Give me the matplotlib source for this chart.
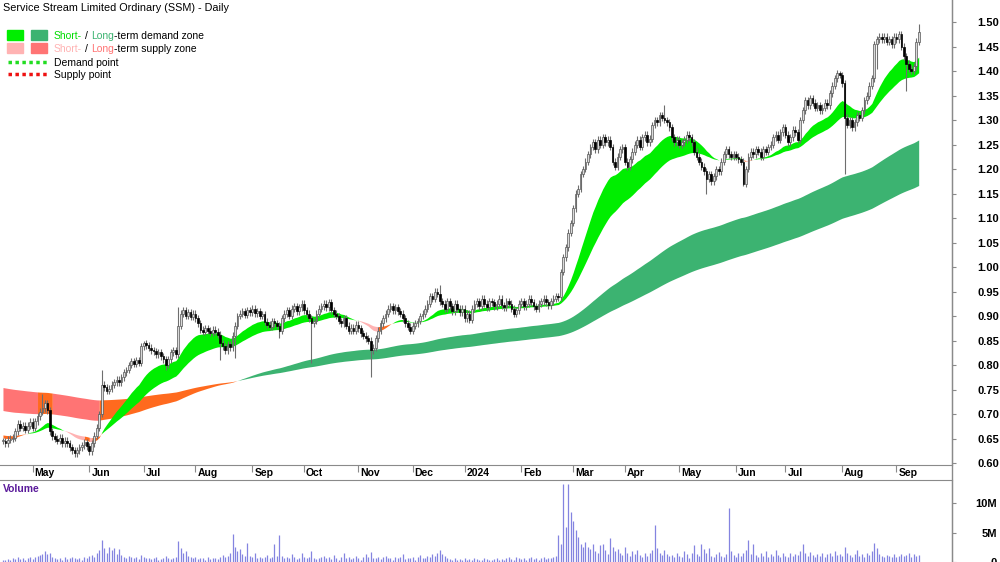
"""
plot.py
SSM daily candles with short/long-term demand & supply zones and volume.
Output: out.png (1000x562)
"""

import numpy as np
import pandas as pd
import matplotlib
matplotlib.use("Agg")
import matplotlib.pyplot as plt
from matplotlib.patches import Rectangle
from matplotlib.lines import Line2D

# ── Data ──────────────────────────────────────────────────────────────────────

START_DATE = "2023-04-13"

# daily closes, in chronological chunks
close_apr_may23 = [0.645, 0.640, 0.648, 0.650, 0.652, 0.665, 0.680, 0.672, 0.676, 0.668,
                   0.676, 0.684, 0.672, 0.685, 0.695, 0.705, 0.712, 0.722, 0.708, 0.665,
                   0.655, 0.650, 0.646, 0.652, 0.640, 0.646, 0.640, 0.632, 0.626, 0.620,
                   0.626, 0.632, 0.636, 0.642, 0.634, 0.624]
close_jun_aug23 = [0.640, 0.656, 0.672, 0.700, 0.760, 0.755, 0.748, 0.752, 0.760, 0.765,
                   0.770, 0.765, 0.775, 0.785, 0.790, 0.800, 0.808, 0.802, 0.810, 0.805,
                   0.838, 0.845, 0.840, 0.835, 0.830, 0.828, 0.822, 0.826, 0.818, 0.812,
                   0.800, 0.812, 0.826, 0.830, 0.822, 0.880, 0.905, 0.912, 0.900, 0.908,
                   0.898, 0.905, 0.895, 0.885, 0.872, 0.868, 0.875, 0.870, 0.866, 0.872,
                   0.868, 0.862, 0.845, 0.838, 0.830, 0.842, 0.836, 0.860, 0.880, 0.900]
close_sep_oct23 = [0.905, 0.910, 0.902, 0.912, 0.908, 0.915, 0.906, 0.910, 0.900, 0.904,
                   0.888, 0.882, 0.878, 0.890, 0.885, 0.880, 0.870, 0.895, 0.905, 0.912,
                   0.900, 0.915, 0.920, 0.910, 0.918, 0.925, 0.912, 0.905, 0.895, 0.885,
                   0.890, 0.905, 0.915, 0.920, 0.925, 0.918, 0.928, 0.912, 0.905, 0.900,
                   0.890, 0.885, 0.895, 0.880, 0.870, 0.876, 0.870, 0.882, 0.875, 0.865,
                   0.860, 0.855, 0.850]
close_nov_dec23 = [0.830, 0.835, 0.855, 0.870, 0.885, 0.895, 0.905, 0.915, 0.920, 0.912,
                   0.918, 0.910, 0.905, 0.895, 0.885, 0.878, 0.870, 0.880, 0.885, 0.890,
                   0.900, 0.905, 0.915, 0.925, 0.940, 0.935, 0.950, 0.945, 0.930, 0.925,
                   0.915, 0.930, 0.920, 0.910, 0.925, 0.915, 0.908, 0.915, 0.895, 0.905,
                   0.892]
close_jan_feb24 = [0.915, 0.925, 0.930, 0.920, 0.935, 0.925, 0.918, 0.930, 0.928, 0.920,
                   0.925, 0.935, 0.922, 0.918, 0.930, 0.925, 0.915, 0.905, 0.912, 0.925,
                   0.930, 0.920, 0.925, 0.935, 0.928, 0.920, 0.915, 0.925, 0.930, 0.935,
                   0.928, 0.922, 0.930, 0.935, 0.940, 0.938]
close_mar_may24 = [0.990, 1.020, 1.040, 1.070, 1.090, 1.120, 1.150, 1.160, 1.190, 1.200,
                   1.215, 1.230, 1.245, 1.255, 1.240, 1.260, 1.250, 1.265, 1.255, 1.260,
                   1.245, 1.215, 1.205, 1.225, 1.240, 1.245, 1.215, 1.205, 1.220, 1.235,
                   1.250, 1.260, 1.245, 1.265, 1.270, 1.255, 1.262, 1.290, 1.300, 1.295,
                   1.310, 1.305, 1.300, 1.295, 1.285, 1.265, 1.255, 1.260, 1.250, 1.255,
                   1.260, 1.270, 1.265, 1.255, 1.235, 1.225, 1.215, 1.205, 1.195, 1.180,
                   1.190, 1.175, 1.185, 1.200, 1.195]
close_jun_jul24 = [1.215, 1.230, 1.240, 1.230, 1.225, 1.230, 1.225, 1.220, 1.215, 1.170,
                   1.200, 1.225, 1.235, 1.230, 1.240, 1.235, 1.225, 1.240, 1.235, 1.245,
                   1.250, 1.265, 1.270, 1.260, 1.275, 1.285, 1.270, 1.255, 1.265, 1.280,
                   1.275, 1.260]
close_aug_sep24 = [1.300, 1.320, 1.340, 1.330, 1.345, 1.335, 1.325, 1.330, 1.320, 1.325,
                   1.335, 1.330, 1.355, 1.370, 1.385, 1.395, 1.392, 1.375, 1.305, 1.290,
                   1.300, 1.285, 1.295, 1.310, 1.305, 1.320, 1.340, 1.350, 1.370, 1.385,
                   1.455, 1.465, 1.470, 1.465, 1.470, 1.460, 1.465, 1.455, 1.470, 1.465,
                   1.475, 1.450, 1.430, 1.415, 1.405, 1.400, 1.410, 1.460, 1.480]

# long wicks that stand out (day index -> price)
wick_highs = {16: 0.740, 40: 0.790, 57: 0.850, 71: 0.918, 177: 0.963,
              268: 1.330, 339: 1.400, 371: 1.495}
wick_lows = {66: 0.790, 88: 0.810, 94: 0.815, 112: 0.855, 125: 0.804,
             149: 0.776, 285: 1.150, 300: 1.165, 341: 1.190, 354: 1.405, 366: 1.360}

# daily volume, millions
vol_2023a = [0.4, 0.3, 0.5, 0.4, 0.6, 0.5, 0.8, 0.5, 0.7, 0.4, 0.6, 0.9, 0.5,
             0.8, 1.0, 1.2, 1.4, 1.8, 1.3,
             1.6, 0.9, 0.7, 0.5, 0.6, 0.4, 0.8, 0.5, 0.6, 0.9, 0.7, 0.5, 0.6, 0.4, 0.8, 0.6, 1.0,
             1.2, 0.8, 1.5, 2.0,
             3.8, 2.4, 1.6, 2.6, 2.0, 2.3, 1.4, 2.2, 1.2,
             0.9, 0.7, 1.1, 0.8, 0.6, 0.9, 0.5, 1.2, 0.8, 0.6, 0.7, 0.5, 0.6, 0.8, 0.4, 0.5,
             0.7, 1.0, 0.6, 0.5, 0.7, 0.9,
             3.6, 2.4, 1.5, 1.8, 1.1,
             0.8, 0.6, 0.9, 0.5, 0.7, 0.6, 0.4, 0.8, 0.5, 0.6, 0.7, 0.5, 0.9, 1.2, 0.8, 1.0]
vol_2023b = [1.5, 4.8, 2.6, 1.9, 2.2, 1.4, 1.0, 3.2,
             1.1, 0.8, 1.6, 0.7, 0.9, 0.6, 0.8, 1.2, 0.7, 0.9, 3.0, 1.1, 4.5,
             1.0, 0.7, 0.9, 0.6, 1.4, 0.8, 0.5, 0.7, 1.6, 0.9, 0.6, 0.8, 1.8, 0.7, 0.5, 0.6, 0.9, 1.1,
             0.6, 0.8, 0.5, 1.2, 0.7, 0.4, 0.9, 1.5, 0.6, 0.8, 0.5, 0.7, 1.0, 0.6, 0.4,
             0.8, 1.4, 0.9, 1.7, 0.7, 0.6, 0.9, 0.5, 0.8, 1.1, 0.6, 0.7, 0.4, 0.9, 0.6,
             0.8, 1.3, 0.5, 0.7, 0.6, 0.9, 0.4, 0.8, 1.2, 0.6, 0.7, 1.0, 0.8, 1.3, 1.1,
             1.6, 2.0, 1.4, 1.0, 0.7]
vol_2024a = [0.5, 0.4, 0.6, 0.3, 0.5, 0.4, 0.7, 0.3, 0.5, 0.4, 0.6, 0.5, 0.3, 0.4, 0.6,
             0.5, 0.4, 0.3, 0.5, 0.6, 0.4, 0.5, 0.3, 0.6, 0.8, 0.5, 0.4, 0.9, 0.6, 0.5,
             0.7, 0.4, 0.6, 0.8, 0.5, 0.7, 0.4, 0.6, 0.9, 0.5, 0.7, 0.6, 0.8, 1.0,
             4.5, 3.0, 13.2, 6.0, 13.2, 8.5, 7.0, 5.5, 4.2, 3.0, 2.6, 3.4, 2.5, 2.2, 3.0, 1.8,
             1.5, 2.8, 3.0, 2.0, 1.4, 4.0, 2.6, 1.8, 2.2, 1.5, 1.2, 2.5, 1.6, 1.0, 1.8, 1.4,
             2.0, 1.2, 0.9, 1.6, 1.1, 1.5,
             2.0, 6.3, 2.4, 1.5, 1.2, 2.0, 1.4, 1.0]
vol_2024b = [1.2, 0.8, 1.6, 1.0, 0.9, 1.8, 1.3, 0.7, 1.5, 2.8, 1.4, 1.0, 3.0, 2.2, 1.6,
             2.4, 1.1, 0.9, 1.3, 1.7, 1.0, 0.8, 1.4,
             9.2,
             1.8, 1.2, 0.9, 1.5, 1.1, 1.6, 2.0, 3.8, 1.4, 3.0, 1.2, 0.9, 1.6, 1.1, 1.8,
             0.8, 1.3, 1.0, 2.0, 1.2, 0.9, 1.5, 1.1, 0.8, 1.6, 1.0, 1.4, 1.2,
             1.9, 3.0, 1.5, 1.1, 1.7, 1.2, 0.9, 1.4, 1.1, 1.6, 0.8, 1.3, 1.5, 1.0, 1.8,
             1.2, 1.4, 1.0, 2.5, 1.6, 1.2, 0.9, 1.4, 2.0, 1.1, 1.3, 0.9, 1.5,
             1.2, 1.8, 3.2, 2.4, 1.4, 1.1, 0.9, 1.2, 1.0, 0.8, 1.3, 0.9, 1.1, 1.4, 1.0,
             1.2, 1.6, 0.9, 1.3, 1.1, 1.2]

# EMA spans and starting levels (zones already in place at the left edge)
SHORT_SPANS = (20, 40)
LONG_SPANS = (150, 250)
SHORT_SEED = (0.652, 0.658)   # fast, slow
LONG_SEED = (0.708, 0.755)

PRICE_TICKS = np.arange(0.60, 1.501, 0.05)
VOL_TICKS = [0, 5, 10]
VOL_LABELS = ["0", "5M", "10M"]

# ── Style ─────────────────────────────────────────────────────────────────────

SHORT_DEMAND = "#00ee00"
LONG_DEMAND = "#3cb371"
SHORT_SUPPLY = "#ffb3b3"
LONG_SUPPLY = "#ff7474"
TEST_ORANGE = "#ff6a1e"
AXIS_GREY = "#8a8a8a"
VOL_COLOUR = "#8484e0"

plt.rcParams["font.family"] = ["Liberation Sans", "DejaVu Sans"]

W, H = 1000, 562


def fx(px):
    return px / W


def fy(py):
    return 1 - py / H


def ema(vals, span, seed):
    a = 2.0 / (span + 1)
    out = np.empty(len(vals))
    e = seed
    for i, v in enumerate(vals):
        e = e + a * (v - e)
        out[i] = e
    return out


def fill_zone(ax, x, fast, slow, highs, demand_c, supply_c):
    cols = []
    for f, s, h in zip(fast, slow, highs):
        if f >= s:
            cols.append(demand_c)
        elif h >= min(f, s):
            cols.append(TEST_ORANGE)
        else:
            cols.append(supply_c)
    start = 0
    for i in range(1, len(x) + 1):
        if i == len(x) or cols[i] != cols[start]:
            end = min(i + 1, len(x))
            ax.fill_between(x[start:end], fast[start:end], slow[start:end],
                            color=cols[start], lw=0, zorder=1)
            start = i


# ── Build series ──────────────────────────────────────────────────────────────

closes = np.array(close_apr_may23 + close_jun_aug23 + close_sep_oct23 + close_nov_dec23
                  + close_jan_feb24 + close_mar_may24 + close_jun_jul24 + close_aug_sep24)
vols = np.array(vol_2023a + vol_2023b + vol_2024a + vol_2024b)
n = len(closes)
assert len(vols) == n, (len(vols), n)

dates = pd.bdate_range(START_DATE, periods=n)
x = np.arange(n)
opens = np.r_[closes[0], closes[:-1]]
pad = 0.007
highs = np.maximum(opens, closes) + pad
lows = np.minimum(opens, closes) - pad
for k, v in wick_highs.items():
    highs[k] = v
for k, v in wick_lows.items():
    lows[k] = v

s_fast = ema(closes, SHORT_SPANS[0], SHORT_SEED[0])
s_slow = ema(closes, SHORT_SPANS[1], SHORT_SEED[1])
l_fast = ema(closes, LONG_SPANS[0], LONG_SEED[0])
l_slow = ema(closes, LONG_SPANS[1], LONG_SEED[1])

# ── Figure ────────────────────────────────────────────────────────────────────

fig = plt.figure(figsize=(W / 100, H / 100), dpi=100, facecolor="white")
ax = fig.add_axes([0, fy(465), fx(952), 465 / H])
axv = fig.add_axes([0, 0, fx(952), 82 / H], sharex=ax)

XLIM = (-1.2, 384.5)
ax.set_xlim(*XLIM)
ax.set_ylim(0.596, 1.545)

fill_zone(ax, x, l_fast, l_slow, highs, LONG_DEMAND, LONG_SUPPLY)
fill_zone(ax, x, s_fast, s_slow, highs, SHORT_DEMAND, SHORT_SUPPLY)

# candles
up = closes >= opens
ax.vlines(x, lows, highs, color="#6e6e6e", lw=0.8, zorder=2)
body_lo = np.minimum(opens, closes)
body_h = np.maximum(np.abs(closes - opens), 0.0015)
ax.bar(x[up], body_h[up], bottom=body_lo[up], width=0.7,
       color="#d9d9d9", edgecolor="#555555", lw=0.5, zorder=3)
ax.bar(x[~up], body_h[~up], bottom=body_lo[~up], width=0.7,
       color="black", edgecolor="black", lw=0.5, zorder=3)

# axes cosmetics
for side in ("top", "left"):
    ax.spines[side].set_visible(False)
axv.spines["left"].set_visible(False)
axv.spines["bottom"].set_visible(False)
ax.spines["right"].set_color(AXIS_GREY)
ax.spines["bottom"].set_color(AXIS_GREY)
axv.spines["right"].set_color(AXIS_GREY)
axv.spines["top"].set_color(AXIS_GREY)

ax.yaxis.tick_right()
ax.set_yticks(PRICE_TICKS)
ax.set_yticklabels([f"{v:.2f}" for v in PRICE_TICKS])
ax.tick_params(axis="y", length=3, pad=31, colors="black", labelsize=8,
               color=AXIS_GREY)
for lbl in ax.get_yticklabels():
    lbl.set_fontweight("bold")
    lbl.set_horizontalalignment("right")

# month ticks
month_idx = [i for i in range(1, n) if dates[i].month != dates[i - 1].month]
ax.set_xticks(month_idx)
ax.tick_params(axis="x", length=5, direction="out", color=AXIS_GREY,
               labelbottom=False)
for i in month_idx:
    lbl = "2024" if dates[i].month == 1 else dates[i].strftime("%b")
    ax.text(i + 0.8, -8 / 465, lbl, transform=ax.get_xaxis_transform(),
            ha="left", va="center", fontsize=7.5, fontweight="bold")

# volume panel
axv.vlines(x, 0, vols, color=VOL_COLOUR, lw=0.9)
axv.set_ylim(0, 13.9)
axv.yaxis.tick_right()
axv.set_yticks(VOL_TICKS)
axv.set_yticklabels(VOL_LABELS)
axv.tick_params(axis="y", length=3, pad=29.5, labelsize=8, color=AXIS_GREY)
axv.tick_params(axis="x", bottom=False, labelbottom=False)
for lbl in axv.get_yticklabels():
    lbl.set_fontweight("bold")
    lbl.set_horizontalalignment("right")
axv.set_xlim(*XLIM)
fig.text(fx(3), fy(489), "Volume", color="#5a1a9a", fontsize=7.5,
         fontweight="bold", va="center")

# full height price-scale line
fig.add_artist(Line2D([fx(952), fx(952)], [0, 1], color=AXIS_GREY, lw=1))

# ── Title & legend ────────────────────────────────────────────────────────────

fig.text(fx(3), fy(8), "Service Stream Limited Ordinary (SSM) - Daily",
         fontsize=7.8, va="center")

fig.add_artist(Rectangle((fx(7), fy(40)), fx(16), 10 / H, color=SHORT_DEMAND))
fig.add_artist(Rectangle((fx(31), fy(40)), fx(16), 10 / H, color=LONG_DEMAND))
fig.add_artist(Rectangle((fx(7), fy(53)), fx(16), 10 / H, color=SHORT_SUPPLY))
fig.add_artist(Rectangle((fx(31), fy(53)), fx(16), 10 / H, color=LONG_SUPPLY))
fig.add_artist(Line2D([fx(8), fx(47)], [fy(62), fy(62)], color="#22dd22",
                      lw=2.5, ls=(0, (1, 1))))
fig.add_artist(Line2D([fx(8), fx(47)], [fy(74), fy(74)], color="#ee1111",
                      lw=2.5, ls=(0, (1, 1))))

fig.canvas.draw()
renderer = fig.canvas.get_renderer()


def write_pieces(x0, ypx, pieces):
    # pieces: (text, colour, gap in px before it)
    xpos = x0
    for s, c, gap in pieces:
        xpos += fx(gap)
        t = fig.text(xpos, fy(ypx), s, color=c, fontsize=7.5, va="baseline")
        bb = t.get_window_extent(renderer=renderer)
        xpos = bb.x1 / fig.bbox.width


write_pieces(fx(54), 39, [("Short-", "#00dd00", 0), ("/", "black", 3),
                          ("Long", LONG_DEMAND, 3), ("-term demand zone", "black", 0)])
write_pieces(fx(54), 52, [("Short-", SHORT_SUPPLY, 0), ("/", "black", 3),
                          ("Long", LONG_SUPPLY, 3), ("-term supply zone", "black", 0)])
write_pieces(fx(54), 66, [("Demand point", "black", 0)])
write_pieces(fx(54), 78, [("Supply point", "black", 0)])

fig.savefig("out.png", dpi=100, facecolor="white")
